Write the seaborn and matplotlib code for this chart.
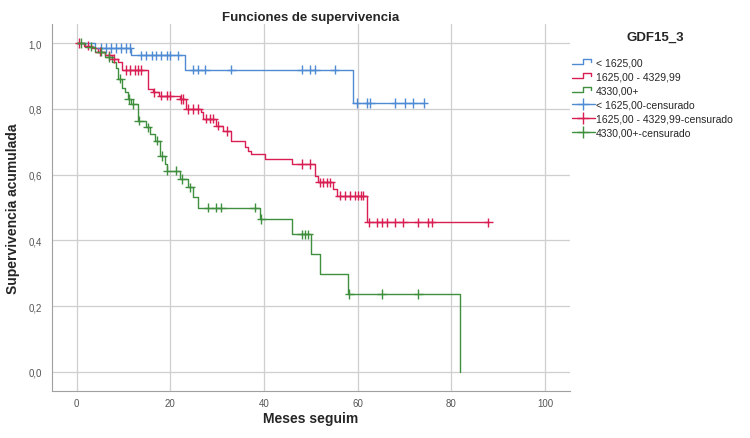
import numpy as np
import pandas as pd
import matplotlib
matplotlib.use("Agg")
import matplotlib.pyplot as plt
from matplotlib.lines import Line2D
from matplotlib.legend_handler import HandlerBase
import seaborn as sns

# Kaplan-Meier steps (time in months, cumulative survival)
blue_t = [0, 4.0, 11.7, 23.1, 59.0, 74.1]
blue_s = [1.0, 0.985, 0.963, 0.919, 0.818, 0.818]
blue_cens = [5.3, 6.3, 7.4, 8.5, 9.5, 10.6, 11.3, 13.8, 14.9, 16.0, 17.0, 18.1,
             19.2, 19.9, 21.6, 24.9, 25.9, 27.4, 33.0, 48.0, 49.8, 50.9, 55.1,
             59.8, 61.9, 62.6, 68.0, 70.1, 71.9, 74.1]

red_t = [0, 1.5, 3.2, 4.6, 6.1, 7.5, 8.9, 9.6, 15.3, 16.3, 17.5, 22.0, 23.4,
         26.6, 27.0, 29.8, 31.3, 33.0, 35.9, 36.6, 37.3, 40.2, 45.9, 50.9,
         51.6, 54.8, 55.5, 61.9, 88.0]
red_s = [1.0, 0.992, 0.984, 0.974, 0.963, 0.953, 0.943, 0.918, 0.86, 0.85,
         0.84, 0.83, 0.80, 0.79, 0.77, 0.749, 0.733, 0.703, 0.683, 0.673,
         0.663, 0.647, 0.632, 0.597, 0.577, 0.556, 0.536, 0.455, 0.455]
red_cens = [0.6, 2.5, 5.0, 7.0, 8.0, 10.6, 11.3, 12.4, 13.1, 13.8, 16.6, 18.1,
            19.2, 19.9, 22.2, 22.7, 23.8, 24.9, 25.9, 27.7, 28.4, 29.1, 30.2,
            32.0, 48.0, 49.8, 51.9, 52.6, 53.4, 54.1, 56.2, 57.3, 58.3, 59.4,
            60.1, 60.8, 61.2, 62.3, 64.1, 65.2, 66.2, 68.0, 69.7, 72.9, 75.1,
            75.8, 87.9]

green_t = [0, 1.8, 3.9, 6.0, 7.5, 8.5, 8.9, 9.6, 10.3, 11.0, 11.7, 13.1, 14.9,
           15.6, 16.7, 17.7, 18.8, 19.2, 22.0, 23.8, 24.9, 25.9, 39.1, 45.9,
           50.1, 51.9, 58.0, 81.8]
green_s = [1.0, 0.989, 0.974, 0.958, 0.943, 0.923, 0.892, 0.862, 0.85, 0.83,
           0.815, 0.764, 0.744, 0.723, 0.703, 0.657, 0.632, 0.612, 0.587,
           0.561, 0.531, 0.5, 0.465, 0.419, 0.359, 0.298, 0.237, 0.0]
green_cens = [1.0, 3.0, 5.2, 7.0, 9.3, 11.2, 12.0, 13.3, 15.2, 17.2, 18.2,
              19.4, 21.3, 22.5, 24.2, 28.1, 29.8, 30.9, 38.0, 39.4, 48.0,
              48.7, 49.4, 58.2, 65.1, 72.9]

groups = ["< 1625,00", "1625,00 - 4329,99", "4330,00+"]
colors = ["#4f8bd3", "#d81e52", "#3f8f3f"]

steps = [(blue_t, blue_s, blue_cens), (red_t, red_s, red_cens),
         (green_t, green_s, green_cens)]

curve_rows = []
cens_rows = []
for g, (t, s, c) in zip(groups, steps):
    for ti, si in zip(t, s):
        curve_rows.append({"t": ti, "s": si, "grupo": g})
    idx = np.searchsorted(t, c, side="right") - 1
    for ci, k in zip(c, idx):
        cens_rows.append({"t": ci, "s": s[k], "grupo": g})
curves = pd.DataFrame(curve_rows)
cens = pd.DataFrame(cens_rows)

sns.set_style("white")
plt.rcParams["font.family"] = ["Liberation Sans", "DejaVu Sans"]

fig = plt.figure(figsize=(7.5, 4.39), dpi=100)
ax = fig.add_axes([0.069, 0.107, 0.691, 0.836])

pal = dict(zip(groups, colors))
sns.lineplot(data=curves, x="t", y="s", hue="grupo", palette=pal,
             drawstyle="steps-post", estimator=None, linewidth=1.0,
             legend=False, ax=ax, zorder=3)
sns.scatterplot(data=cens, x="t", y="s", hue="grupo", palette=pal,
                marker="+", s=45, linewidth=1.0, legend=False, ax=ax, zorder=4)

ax.set_xlim(-5.3, 105.3)
ax.set_ylim(-0.058, 1.058)
ax.set_xticks([0, 20, 40, 60, 80, 100])
ax.set_yticks([0, 0.2, 0.4, 0.6, 0.8, 1.0])
ax.set_yticklabels([f"{v:.1f}".replace(".", ",") for v in ax.get_yticks()])
ax.tick_params(axis="x", length=0, labelsize=7, colors="#555555", pad=5)
ax.tick_params(axis="y", length=0, labelsize=7, colors="#555555", pad=7)
ax.grid(True, color="#cfcfcf", linewidth=0.9)
ax.set_axisbelow(True)
for side in ["top", "right"]:
    ax.spines[side].set_visible(False)
for side in ["left", "bottom"]:
    ax.spines[side].set_color("#a0a0a0")

ax.set_title("Funciones de supervivencia", fontsize=9.5, fontweight="bold", pad=3)
ax.set_xlabel("Meses seguim", fontsize=10, fontweight="bold", labelpad=2)
ax.set_ylabel("Supervivencia acumulada", fontsize=10, fontweight="bold", labelpad=6)


class StepHandler(HandlerBase):
    def create_artists(self, legend, orig_handle, xdescent, ydescent,
                       width, height, fontsize, trans):
        w, h = width, height
        xs = [0, 0.5 * w, 0.5 * w, 0.85 * w, 0.85 * w]
        ys = [0.15 * h, 0.15 * h, 0.85 * h, 0.85 * h, 0.5 * h]
        line = Line2D(np.array(xs) - xdescent, np.array(ys) - ydescent,
                      color=orig_handle.get_color(), lw=1.0, transform=trans)
        return [line]


step_handles = [Line2D([], [], color=c) for c in colors]
cens_handles = [Line2D([], [], color=c, marker="+", markersize=8, lw=1.0)
                for c in colors]
handles = step_handles + cens_handles
labels = groups + [g + "-censurado" for g in groups]
hmap = {h: StepHandler() for h in step_handles}

fig.text(655 / 750, 1 - 38 / 439, "GDF15_3", fontsize=9.5, fontweight="bold",
         ha="center", va="center")
leg = fig.legend(handles, labels, handler_map=hmap, loc="upper left",
                 bbox_to_anchor=(0.757, 0.877), frameon=False, fontsize=7.5,
                 handlelength=2.2, handletextpad=0.1,
                 labelspacing=0.4, borderaxespad=0)

fig.savefig("out.png", dpi=100)
